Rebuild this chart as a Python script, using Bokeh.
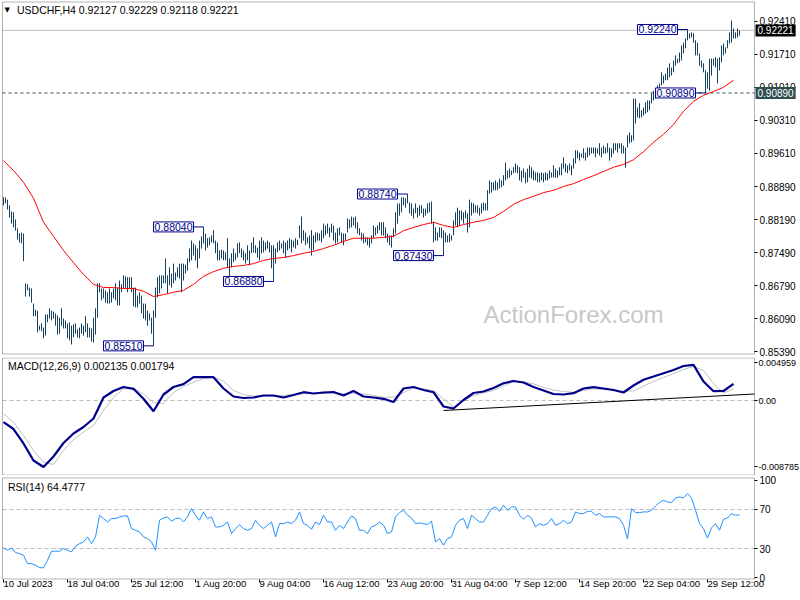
import numpy as np
from bokeh.plotting import figure
from bokeh.layouts import column
from bokeh.models import (Label, FixedTicker, PrintfTickFormatter, Range1d, ColumnDataSource,
                          LinearAxis, BoxAnnotation)
from bokeh.embed import file_html
from bokeh.resources import INLINE

# ---------------- data ----------------
# H4 bars, prices in units of 0.0001
HIGH_PIPS = [
 8867,8867,8862,8850,8837,8835,8820,8801,8790,8792, 8790,8684,8682,8675,8673,8641,8628,8626,8594,8599,
 8590,8618,8618,8631,8626,8624,8620,8616,8611,8631, 8609,8605,8599,8601,8594,8597,8599,8586,8590,8599,
 8594,8614,8599,8590,8588,8611,8631,8684,8684,
 8673,8673,8669,8665,8673,8665,8673,8684,8675,8690, 8682,8701,8699,8697,8697,8697,8675,8675,8658,8665,
 8658,8641,8641,8626,8620,8611,8626,8675,8697,8701, 8701,8701,8737,8701,8718,8705,8726,8707,8718,8726,
 8726,8726,8724,8737,8758,8775,8769,8765,8758,8775, 8784,8804,8790,8780,8782,8786,8797,8775,8771,8754,
 8756,8754,8750,8780,8737,8748,8758,8748,8769,8771, 8758,8754,8748,8765,8754,8771,8782,8765,8760,
 8775,8782,8775,8771,8775,8771,8765,8765,8758,8771, 8775,8769,8775,8771,8775,8780,8777,8775,8780,8777,
 8807,8826,8797,8792,8782,8786,8797,8786,8792,8792, 8790,8797,8811,8807,8811,8803,8811,8807,8792,8801,
 8803,8792,8790,8790,8822,8820,8826,8824,8826,8814, 8801,8792,8790,8782,8782,8780,8786,8807,8803,8807,
 8814,8814,8814,8803,8790,8786,8786,8801,8835,8854, 8854,8867,8867,8865,8874,8856,8854,8843,8854,8845,
 8850,8850,8843,8843,8854,8856,8858,8814,8803,8792, 8803,8803,8797,8792,8786,8790,8786,8818,8835,8845,
 8839,8839,8835,8839,8833,8862,8856,8854,8850,8850, 8845,8854,8856,8854,8882,8903,8899,8899,8903,8899,
 8907,8903,8914,8941,8924,8928,8924,8931,8939,8935,
 8931,8924,8928,8920,8928,8935,8931,8924,8920,8920, 8918,8920,8918,8920,8918,8924,8920,8935,8928,8924,
 8931,8939,8952,8939,8935,8939,8935,8950,8967,8967, 8962,8960,8971,8962,8973,8973,8973,8973,8973,8971,
 8982,8973,8977,8973,8982,8973,8971,8982,8982,8982, 8982,8982,8977,8973,8999,9005,8999,9077,9077,9058,
 9067,9052,9058,9069,9073,9073,9088,9094,9094,9105, 9109,9133,9126,9130,9143,9152,9143,9158,9169,9162,
 9175,9190,9196,9205,9224,9216,9218,9216,9201,9196, 9173,9158,9152,9137,9133,9162,9162,9162,9165,9162,
 9165,9190,9194,9186,9201,9218,9243,9226,9218,9226, 9222]
LOW_PIPS = [
 8850,8854,8841,8824,8811,8803,8796,8777,8771,8769, 8731,8656,8669,8656,8643,8614,8614,8580,8584,8582,
 8567,8573,8601,8609,8605,8609,8594,8575,8577,8594, 8588,8588,8567,8563,8554,8569,8577,8569,8567,8577,
 8573,8580,8569,8569,8560,8558,8575,8611,8665,
 8648,8652,8643,8641,8641,8643,8652,8648,8637,8637, 8665,8673,8673,8665,8673,8665,8635,8633,8633,8641,
 8620,8609,8605,8594,8605,8577,8551,8611,8654,8663, 8673,8684,8684,8663,8680,8675,8684,8690,8697,8694,
 8665,8690,8705,8711,8729,8733,8743,8733,8716,8737, 8758,8769,8754,8760,8765,8771,8769,8748,8733,8733,
 8737,8733,8733,8718,8697,8718,8729,8733,8739,8748, 8739,8733,8726,8733,8722,8748,8750,8748,8739,
 8733,8748,8750,8754,8758,8750,8716,8688,8726,8750, 8754,8758,8748,8739,8754,8758,8750,8760,8758,8765,
 8780,8769,8775,8765,8769,8758,8743,8754,8771,8775, 8775,8771,8780,8786,8790,8782,8792,8775,8769,8771,
 8786,8771,8765,8775,8792,8801,8803,8807,8801,8790, 8786,8775,8769,8771,8765,8760,8769,8780,8786,8790,
 8797,8786,8786,8780,8771,8765,8760,8782,8790,8811, 8828,8835,8850,8845,8854,8833,8828,8822,8833,8824,
 8828,8833,8824,8828,8833,8835,8811,8771,8775,8775, 8782,8780,8743,8771,8771,8771,8775,8786,8807,8803,
 8807,8818,8811,8822,8792,8803,8828,8833,8835,8833, 8828,8833,8839,8839,8839,8875,8877,8882,8882,8882,
 8886,8888,8892,8903,8907,8909,8914,8918,8920,8918,
 8903,8899,8909,8897,8899,8909,8907,8903,8903,8899, 8899,8903,8899,8903,8903,8907,8909,8909,8909,8909,
 8914,8914,8928,8920,8918,8924,8914,8928,8939,8950, 8945,8952,8950,8945,8952,8956,8960,8960,8952,8960,
 8956,8952,8960,8960,8962,8945,8952,8960,8967,8962, 8971,8960,8960,8930,8973,8982,8984,8988,9024,9037,
 9035,9037,9041,9045,9048,9052,9067,9073,9077,9084, 9088,9105,9109,9116,9116,9122,9126,9133,9147,9152,
 9154,9158,9173,9184,9201,9205,9207,9196,9169,9169, 9147,9143,9133,9089,9098,9094,9126,9147,9143,9109,
 9137,9154,9169,9173,9184,9194,9196,9205,9205,9207, 9211]

# moving average, one value every 5 bars (units of 0.0001)
MA_STEP = 5
MA_PIPS = [
 8945,8924,8899,8865,8814,8784,8754,8728,8703,8682, 8675,8675,8673,8673,8667,8656,8660,8665,8669,8682,
 8699,8709,8716,8720,8722,8726,8733,8737,8739,8743, 8748,8752,8758,8765,8773,8780,8780,8780,8782,8784,
 8796,8803,8809,8814,8807,8803,8809,8814,8818,8824, 8837,8852,8862,8869,8877,8882,8890,8896,8905,8913,
 8922,8931,8937,8947,8964,8984,9001,9022,9050,9071, 9084,9092,9101,9116]

# MACD(12,26,9): main and signal, one value every 5 bars (units of 1e-6)
MACD_STEP = 5
MACD_MAIN = [
 -2868,-3766,-5682,-7929,-8785,-7400,-5616,-4361,-3502,-2379, 396,1255,1784,1546,225,-1414,793,1784,2167,3079,
 3106,3079,1586,529,330,396,661,661,396,727, 1097,925,1057,1123,661,1255,529,396,225,-198,
 1586,1784,1388,1097,-793,-1057,66,991,1189,1652, 2286,2577,2379,1784,1322,859,793,965,1586,1758,
 1586,1388,1057,1982,2749,3172,3608,4031,4559,4700, 2511,1229,1255,2207]
MACD_SIGNAL = [
 -1758,-2868,-4625,-6608,-8154,-8458,-6608,-5154,-4163,-3304, -1322,396,1546,1586,859,-264,-396,1057,1850,2418,
 2907,3106,2577,1322,793,595,595,595,661,793, 885,925,925,965,925,965,859,661,436,436,
 1057,1678,1520,1322,225,-885,0,661,991,1322, 1916,2511,2445,2207,1718,1388,1189,1097,1322,1546,
 1454,1388,1255,1255,1916,2511,3039,3568,4097,4493, 3965,2247,965,1546]
MACD_TICKS = [-0.008785, 0.0, 0.004959]
TREND_START_BAR = 220
TREND_MACD = [-0.00132, 0.00086]

# RSI(14), one value every 2 bars
RSI_STEP = 2
RSI_VALUES = [
 30.6,28.2,30.6,25.8,24.8,23.0,14.5,14.5,12.8,10.4, 10.1,17.9,27.2,27.2,27.2,29.9,28.2,26.5,32.6,35.0,
 36.7,41.9,35.0,41.9,64.1,60.7,57.2,60.7,60.7,62.4, 63.4,63.4,50.4,48.7,47.0,41.9,40.1,36.7,28.2,59.0,
 61.3,62.4,57.9,60.7,61.3,57.2,62.4,70.9,64.1,59.0, 67.5,60.7,62.4,52.1,52.1,53.8,57.2,45.3,50.4,54.5,
 50.4,48.7,50.4,59.0,53.8,50.4,53.8,57.2,41.9,55.5, 55.5,57.2,55.5,59.0,67.5,55.5,53.8,49.7,57.2,54.5,
 64.1,57.2,57.2,48.7,53.8,50.4,57.2,63.4,60.7,48.7, 48.7,45.3,52.1,53.8,57.2,53.8,45.3,47.0,62.4,66.8,
 69.2,64.1,61.3,55.5,56.2,55.5,54.5,58.0,36.7,40.1, 33.3,40.1,41.9,53.8,59.0,60.7,50.4,64.1,60.7,57.2,
 57.2,64.1,70.9,72.6,68.2,74.3,69.2,72.6,72.6,64.1, 60.0,64.1,61.3,52.1,55.5,53.8,55.5,60.7,53.8,55.5,
 59.0,55.5,57.2,67.5,65.8,65.8,68.2,68.2,64.1,65.8, 62.4,62.4,62.4,62.4,60.7,53.8,40.0,70.9,66.8,66.8,
 67.5,67.5,69.2,73.6,77.1,79.5,77.7,77.1,81.9,82.9, 81.9,86.3,81.9,69.2,55.5,50.4,40.8,51.1,55.5,48.7,
 60.0,61.3,65.8,64.1,64.5]
RSI_TICKS = [0, 30, 70, 100]
RSI_LEVELS = [30, 70]

# axis ticks
TIME_TICK_BARS = [0, 32, 64, 96, 128, 160, 192, 224, 256, 288, 320, 352]
TIME_TICK_LABELS = ["10 Jul 2023", "18 Jul 04:00", "25 Jul 12:00", "1 Aug 20:00", "9 Aug 04:00",
                    "16 Aug 12:00", "23 Aug 20:00", "31 Aug 04:00", "7 Sep 12:00", "14 Sep 20:00",
                    "22 Sep 04:00", "29 Sep 12:00"]
PRICE_TICKS = [0.85390, 0.86090, 0.86790, 0.87490, 0.88190, 0.88890, 0.89610, 0.90310, 0.91010, 0.91710, 0.92410]

# marked swing points
EXTREME_BARS = [75, 100, 135, 202, 220, 342, 351]
EXTREME_PRICES = [0.85510, 0.88040, 0.86880, 0.88740, 0.87430, 0.92240, 0.90890]
CURRENT_PRICE = 0.92221
SUPPORT_PRICE = 0.90890

TITLE = "USDCHF,H4  0.92127 0.92229 0.92118 0.92221"
MACD_TITLE = "MACD(12,26,9) 0.002135 0.001794"
RSI_TITLE = "RSI(14) 64.4777"
WATERMARK = "ActionForex.com"

# ---------------- layout / styling ----------------
FONT = "Liberation Sans"
BAR_COLOR = "#173f5e"
NAVY = "#00008B"
W = 800
X_START, X_END = -1.5, 398.5        # frame covers the price scale area too (2 px per bar)
BOX_L, BOX_R = -0.5, 375.5           # chart-window border, price scale to the right

N = len(HIGH_PIPS)
bars = ColumnDataSource(dict(i=np.arange(N), hi=np.array(HIGH_PIPS) / 1e4, lo=np.array(LOW_PIPS) / 1e4))
ma_src = ColumnDataSource(dict(i=np.arange(len(MA_PIPS)) * MA_STEP, v=np.array(MA_PIPS) / 1e4))
macd_src = ColumnDataSource(dict(i=np.arange(len(MACD_MAIN)) * MACD_STEP,
                                 m=np.array(MACD_MAIN) / 1e6, s=np.array(MACD_SIGNAL) / 1e6))
rsi_src = ColumnDataSource(dict(i=np.arange(len(RSI_VALUES)) * RSI_STEP, v=np.array(RSI_VALUES)))

xr = Range1d(X_START, X_END)


def style_axis(ax, size="10px"):
    ax.axis_line_color = None
    ax.major_tick_line_color = "black"
    ax.major_tick_in = 0
    ax.major_tick_out = 3
    ax.minor_tick_line_color = None
    ax.major_label_text_font = FONT
    ax.major_label_text_font_size = size
    ax.major_label_text_color = "black"
    ax.major_label_standoff = 2


def make(height, y_lo, y_hi, box_lo, box_hi, ticks, size="10px"):
    p = figure(width=W, height=height, x_range=xr, y_range=Range1d(y_lo, y_hi),
               output_backend="svg", toolbar_location=None,
               x_axis_location=None, y_axis_location=None, min_border=0)
    p.grid.visible = False
    p.outline_line_color = None
    p.background_fill_color = "white"
    p.border_fill_color = "white"
    p.add_layout(BoxAnnotation(left=BOX_L, right=BOX_R, bottom=box_lo, top=box_hi,
                               fill_alpha=0, line_color="black", line_width=1))
    ax = LinearAxis(fixed_location=BOX_R, ticker=FixedTicker(ticks=ticks))
    style_axis(ax, size)
    p.add_layout(ax, "right")
    return p, ax


def title_label(p, text, y_top, x_off):
    p.add_layout(Label(x=BOX_L, y=y_top, x_offset=x_off, y_offset=-8.5, text=text,
                       text_font=FONT, text_font_size="10.5px", text_color="black",
                       text_align="left", text_baseline="middle"))


def hline(p, y, color, dash="solid", x0=BOX_L):
    p.line(x=[x0, BOX_R], y=[y, y], line_color=color, line_dash=dash, line_width=1)


# ---- main price panel ----
P_LO, P_HI = 0.852625, 0.928567
P_BOX = (0.853371, 0.928248)
main, pax = make(357, P_LO, P_HI, P_BOX[0], P_BOX[1], PRICE_TICKS)
pax.formatter = PrintfTickFormatter(format="%.5f")

hline(main, SUPPORT_PRICE, "#2F4F4F", "3 3")
hline(main, CURRENT_PRICE, "#C0C0C0")
main.add_layout(Label(x=240, y=0.86177, text=WATERMARK, text_font=FONT,
                      text_font_size="24px", text_color="#C8C8C8", text_baseline="middle"))
main.segment(x0="i", y0="lo", x1="i", y1="hi", source=bars, line_color=BAR_COLOR, line_width=1)
main.line("i", "v", source=ma_src, line_color="#FF0000", line_width=1)

for b, pr in zip(EXTREME_BARS, EXTREME_PRICES):
    main.segment(x0=[b - 5], y0=[pr], x1=[b], y1=[pr], line_color=NAVY, line_width=1)
    main.add_layout(Label(x=b - 5, y=pr, text=f"{pr:.5f}", text_font=FONT, text_font_size="10.5px",
                          text_color=NAVY, text_align="right", text_baseline="middle",
                          background_fill_color="white", border_line_color=NAVY, border_line_width=1,
                          padding=1))

for pr, bg in ((CURRENT_PRICE, "black"), (SUPPORT_PRICE, "#2F4F4F")):
    main.add_layout(Label(x=BOX_R, y=pr, x_offset=1, text=f"{pr:.5f}", text_font=FONT,
                          text_font_size="10px", text_color="white", text_align="left",
                          text_baseline="middle", background_fill_color=bg, padding=2))

main.add_layout(Label(x=BOX_L, y=P_BOX[1], x_offset=2, y_offset=-8.5, text="\u25BC", text_font="DejaVu Sans",
                      text_font_size="7px", text_color="black", text_align="left", text_baseline="middle"))
title_label(main, TITLE, P_BOX[1], 14.5)

# ---- MACD panel ----
M_LO, M_HI = -0.009911, 0.005683
M_BOX = (-0.009846, 0.005617)
macd, max_ = make(118, M_LO, M_HI, M_BOX[0], M_BOX[1], MACD_TICKS, size="9px")
max_.major_label_overrides = {MACD_TICKS[0]: "-0.008785", MACD_TICKS[1]: "0.00", MACD_TICKS[2]: "0.004959"}
max_.major_label_standoff = 1
hline(macd, 0.0, "#BBBBBB", "4 3")
macd.line("i", "s", source=macd_src, line_color="#C0C0C0", line_width=1)
macd.line("i", "m", source=macd_src, line_color=NAVY, line_width=2.2)
macd.line(x=[TREND_START_BAR, BOX_R], y=TREND_MACD, line_color="black", line_width=1)
title_label(macd, MACD_TITLE, M_BOX[1], 5.5)

# ---- RSI panel ----
R_LO, R_HI = -23.33, 104.87
R_BOX = (-1.28, 102.3)
rsi, rax = make(125, R_LO, R_HI, R_BOX[0], R_BOX[1], RSI_TICKS)
for lv in RSI_LEVELS:
    hline(rsi, lv, "#BBBBBB", "4 3")
rsi.line("i", "v", source=rsi_src, line_color="#1E90FF", line_width=1)
title_label(rsi, RSI_TITLE, R_BOX[1], 5.5)

xax = LinearAxis(fixed_location=R_BOX[0], ticker=FixedTicker(ticks=TIME_TICK_BARS))
style_axis(xax, "9.5px")
xax.major_label_overrides = dict(zip(TIME_TICK_BARS, TIME_TICK_LABELS))
xax.major_label_orientation = -0.0001
xax.major_label_standoff = 1
rsi.add_layout(xax, "below")

layout = column(main, macd, rsi, spacing=0)
open("out.html", "w").write(file_html(layout, INLINE))
